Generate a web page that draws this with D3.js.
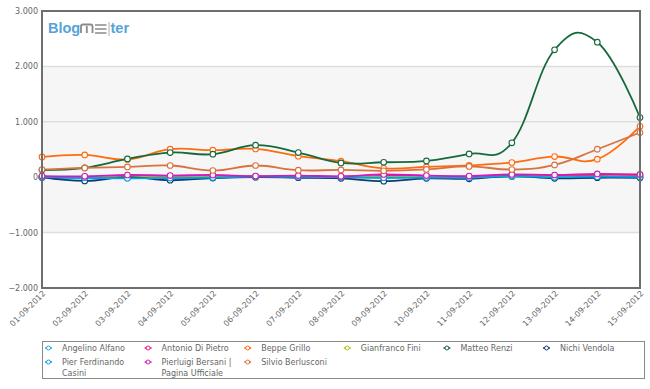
<!DOCTYPE html>
<html>
<head>
<meta charset="utf-8">
<script src="https://cdn.jsdelivr.net/npm/d3@7"></script>
<style>
  body { margin: 0; background: #fff; }
  svg { display: block; font-family: "DejaVu Sans", Verdana, sans-serif; }
</style>
</head>
<body>
<svg id="chart" width="650" height="389"></svg>
<script>
// dates on the x axis
const dates = ['01-09-2012','02-09-2012','03-09-2012','04-09-2012','05-09-2012','06-09-2012','07-09-2012',
  '08-09-2012','09-09-2012','10-09-2012','11-09-2012','12-09-2012','13-09-2012','14-09-2012','15-09-2012'];

const yTicks = [3000, 2000, 1000, 0, -1000, -2000];

// one array per page
const alfano     = [-10, -20, -10, -15, -10, 5, 0, -5, -10, 0, -5, 10, -5, 0, 0];
const diPietro   = [10, 5, 20, 15, 20, 15, 15, 10, 25, 20, 10, 40, 30, 40, 40];
const grillo     = [366, 402, 320, 505, 487, 510, 380, 290, 160, 186, 212, 265, 373, 325, 920];
const fini       = [5, 5, 10, 5, 10, 10, 10, 5, 5, 5, 5, 15, 10, 10, 10];
const renzi      = [130, 170, 330, 445, 415, 578, 445, 258, 270, 294, 420, 620, 2300, 2437, 1077];
const vendola    = [0, -67, 0, -55, -15, 0, -10, -20, -72, -20, -30, 20, -20, -10, -10];
const casini     = [0, -10, -20, -15, -5, 10, 5, 0, -10, -5, -10, 20, 0, 10, 5];
const bersani    = [20, 15, 40, 30, 40, 20, 30, 15, 50, 30, 20, 50, 40, 60, 50];
const berlusconi = [138, 168, 186, 211, 121, 211, 126, 132, 115, 140, 195, 139, 222, 505, 807];

const series = [
  { name: 'Angelino Alfano', values: alfano, color: '#2aa9e0' },
  { name: 'Antonio Di Pietro', values: diPietro, color: '#e8197a' },
  { name: 'Beppe Grillo', values: grillo, color: '#ff6b0f' },
  { name: 'Gianfranco Fini', values: fini, color: '#9bcb1e' },
  { name: 'Matteo Renzi', values: renzi, color: '#16693a' },
  { name: 'Nichi Vendola', values: vendola, color: '#0b3d73' },
  { name: ['Pier Ferdinando', 'Casini'], values: casini, color: '#119ce8' },
  { name: ['Pierluigi Bersani |', 'Pagina Ufficiale'], values: bersani, color: '#d21ab8' },
  { name: 'Silvio Berlusconi', values: berlusconi, color: '#d9723f' }
];

const svg = d3.select('#chart');
const plotL = 42, plotR = 640, plotT = 11, plotB = 288;

const x = d3.scalePoint().domain(dates).range([plotL, plotR]);
const y = d3.scaleLinear().domain([-2000, 3000]).range([plotB, plotT]);

// grey band behind the plot
svg.append('rect')
  .attr('x', plotL).attr('y', y(2000))
  .attr('width', plotR - plotL).attr('height', y(-1000) - y(2000))
  .attr('fill', '#f6f6f6');

// grid
svg.append('g').selectAll('line')
  .data([2000, 1000, 0, -1000])
  .join('line')
  .attr('x1', plotL).attr('x2', plotR)
  .attr('y1', d => y(d)).attr('y2', d => y(d))
  .attr('stroke', '#dedede').attr('stroke-width', 1.5);

// logo
const logo = svg.append('g');
logo.append('text').attr('x', 48).attr('y', 33)
  .attr('font-family', '"Liberation Sans", Arial, sans-serif')
  .attr('font-weight', 'bold').attr('font-size', 14.5)
  .attr('fill', '#55a3d8').text('Blog');
logo.append('path')
  .attr('d', 'M81,33V26.5Q81,24.5 83,24.5H90.5Q92.5,24.5 92.5,26.5V33M86.8,26V33')
  .attr('fill', 'none').attr('stroke', '#8a8a8a').attr('stroke-width', 1.8);
logo.append('path')
  .attr('d', 'M95,25H106.5M95,29H106.5M95,33H106.5')
  .attr('stroke', '#8a8a8a').attr('stroke-width', 1.6);
logo.append('line').attr('x1', 109).attr('x2', 109).attr('y1', 22).attr('y2', 36)
  .attr('stroke', '#9a9a9a').attr('stroke-width', 0.8);
logo.append('text').attr('x', 110.5).attr('y', 33)
  .attr('font-family', '"Liberation Sans", Arial, sans-serif')
  .attr('font-weight', 'bold').attr('font-size', 14.5)
  .attr('fill', '#55a3d8').text('ter');

// lines
const line = d3.line()
  .x((d, i) => x(dates[i]))
  .y(d => y(d))
  .curve(d3.curveCardinal.tension(-0.25));

const g = svg.append('g');
series.forEach(s => {
  g.append('path')
    .attr('d', line(s.values))
    .attr('fill', 'none')
    .attr('stroke', s.color)
    .attr('stroke-width', 1.8);
});
series.forEach(s => {
  g.append('g').selectAll('circle')
    .data(s.values)
    .join('circle')
    .attr('cx', (d, i) => x(dates[i]))
    .attr('cy', d => y(d))
    .attr('r', 2.8)
    .attr('fill', '#fff')
    .attr('stroke', s.color)
    .attr('stroke-width', 1.1);
});

// frame
svg.append('rect')
  .attr('x', plotL).attr('y', plotT)
  .attr('width', plotR - plotL).attr('height', plotB - plotT)
  .attr('fill', 'none').attr('stroke', '#6e6e6e').attr('stroke-width', 2);

// y axis labels
const fmt = v => d3.format(',')(v).replace(/,/g, '.');
svg.append('g').selectAll('text')
  .data(yTicks)
  .join('text')
  .attr('x', 38).attr('y', d => y(d) + 3)
  .attr('text-anchor', 'end')
  .attr('font-size', 8).attr('fill', '#666')
  .text(fmt);

// x axis labels
svg.append('g').selectAll('text')
  .data(dates)
  .join('text')
  .attr('transform', d => `translate(${x(d) + 4},${plotB + 6}) rotate(-45)`)
  .attr('text-anchor', 'end')
  .attr('font-size', 8).attr('fill', '#666')
  .text(d => d);

// legend
svg.append('rect')
  .attr('x', 42.5).attr('y', 341.5).attr('width', 602).attr('height', 37)
  .attr('fill', '#fff').attr('stroke', '#8a8a8a').attr('stroke-width', 1);

const leg = svg.append('g').selectAll('g')
  .data(series)
  .join('g')
  .attr('transform', (d, i) => `translate(${42 + (i % 6) * 99.6},${i < 6 ? 348 : 362})`);
leg.append('line')
  .attr('x1', 3).attr('x2', 10).attr('y1', 0).attr('y2', 0)
  .attr('stroke', d => d.color).attr('stroke-width', 1.5);
leg.append('circle')
  .attr('cx', 6.5).attr('cy', 0).attr('r', 2)
  .attr('fill', '#fff').attr('stroke', d => d.color).attr('stroke-width', 1);
leg.append('text')
  .attr('x', 20).attr('y', 3)
  .attr('font-size', 8).attr('fill', '#666')
  .selectAll('tspan')
  .data(d => Array.isArray(d.name) ? d.name : [d.name])
  .join('tspan')
  .attr('x', 20).attr('dy', (d, i) => i ? 11 : 0)
  .text(d => d);
</script>
</body>
</html>
